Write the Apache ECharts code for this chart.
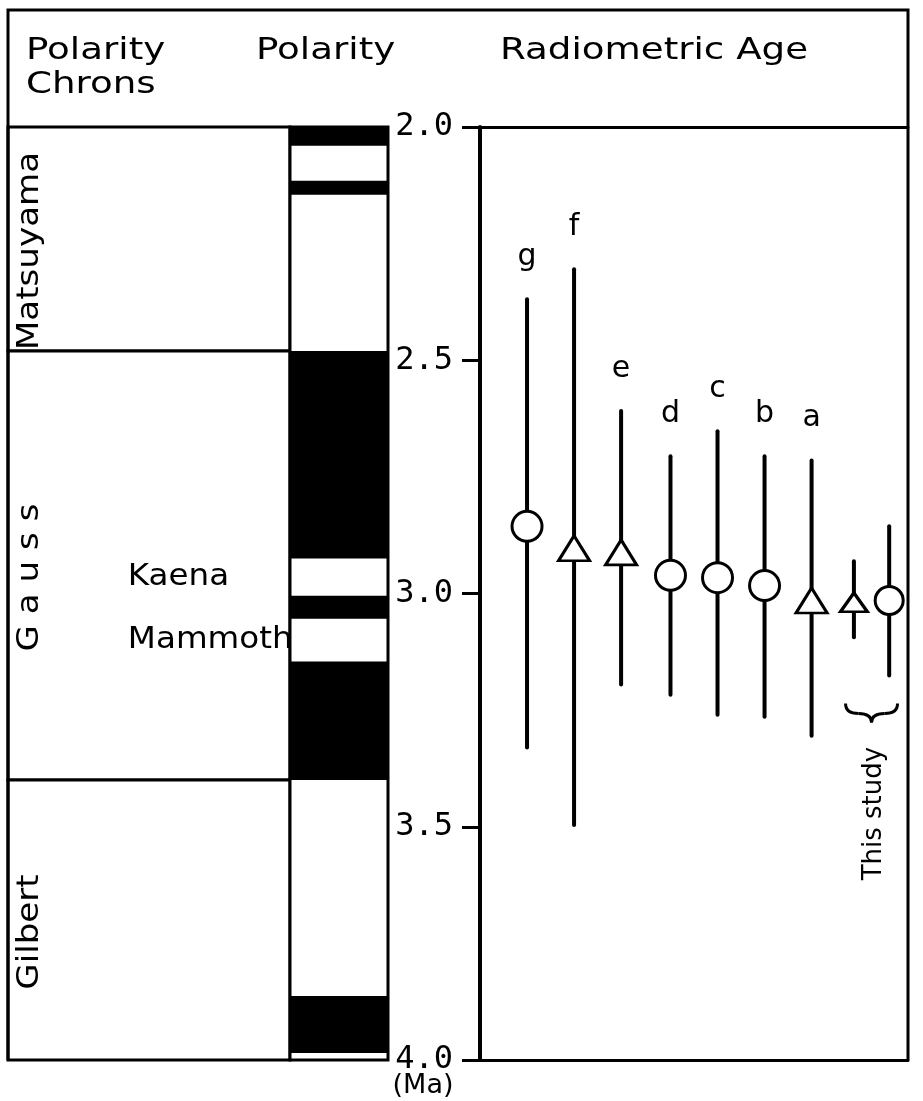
<!DOCTYPE html>
<html lang="en">
<head>
<meta charset="UTF-8">
<title>Polarity chrons and radiometric ages</title>
<script src="https://cdn.jsdelivr.net/npm/echarts@6/dist/echarts.min.js"></script>
<style>html,body{margin:0;background:#fff;}</style>
</head>
<body>
<div id="chart" style="width:923px;height:1101px;"></div>
<script>
// polarity chrons (Ma)
const chronNames = ['Matsuyama', 'G a u s s', 'Gilbert'];
const chronStart = [2.0, 2.48, 3.40];
const chronEnd = [2.48, 3.40, 4.0];

// normal polarity intervals (black)
const normalStart = [2.0, 2.115, 2.48, 3.005, 3.146, 3.863];
const normalEnd = [2.04, 2.145, 2.925, 3.054, 3.40, 3.985];

// subchrons
const subNames = ['Kaena', 'Mammoth'];
const subStart = [2.925, 3.054];
const subEnd = [3.005, 3.146];

// radiometric ages
const sampleNames = ['g', 'f', 'e', 'd', 'c', 'b', 'a', '', ''];
const slot = [1, 2, 3, 4.05, 5.05, 6.05, 7.05, 7.95, 8.7];
const ageMean = [2.856, 2.903, 2.912, 2.961, 2.966, 2.983, 3.015, 3.019, 3.015];
const ageLow = [2.369, 2.305, 2.609, 2.706, 2.652, 2.706, 2.715, 2.931, 2.856];
const ageHigh = [3.330, 3.496, 3.195, 3.217, 3.260, 3.264, 3.305, 3.094, 3.176];
const method = ['circle', 'triangle', 'triangle', 'circle', 'circle', 'circle', 'triangle', 'triangle', 'circle'];
const source = ['lit', 'lit', 'lit', 'lit', 'lit', 'lit', 'lit', 'study', 'study'];
const ageTicks = [2.0, 2.5, 3.0, 3.5, 4.0];

const BLACK = '#000';
const SANS = '"DejaVu Sans"';

const chart = echarts.init(document.getElementById('chart'));

const ageAxis = {
    type: 'value',
    inverse: true,
    min: ageTicks[0],
    max: ageTicks[ageTicks.length - 1],
    interval: ageTicks[1] - ageTicks[0]
};
const hidden = { show: false };

function txt(style) {
    // keep both old and new names for alignment
    style.textAlign = style.align;
    style.textVerticalAlign = style.verticalAlign;
    return style;
}

function markerSize(i) {
    const small = source[i] === 'study';
    if (method[i] === 'circle') return small ? 28 : 30;
    return small ? [27, 19] : [31, 25];
}

chart.setOption({
    animation: false,
    backgroundColor: '#fff',
    grid: [
        { left: 8, top: 127, width: 282, height: 933 },
        { left: 290, top: 127, width: 98, height: 933 },
        { left: 480, top: 127, width: 428, height: 933 }
    ],
    xAxis: [
        { type: 'value', gridIndex: 0, min: 0, max: 1, ...hidden },
        { type: 'value', gridIndex: 1, min: 0, max: 1, ...hidden },
        {
            type: 'value', gridIndex: 2, min: 0, max: 9.1, position: 'top',
            axisLine: { show: true, lineStyle: { color: BLACK, width: 3 } },
            axisTick: { show: false }, axisLabel: { show: false }, splitLine: { show: false }
        },
        {
            type: 'value', gridIndex: 2, min: 0, max: 9.1, position: 'bottom',
            axisLine: { show: true, lineStyle: { color: BLACK, width: 3 } },
            axisTick: { show: false }, axisLabel: { show: false }, splitLine: { show: false }
        }
    ],
    yAxis: [
        { ...ageAxis, gridIndex: 0, ...hidden },
        { ...ageAxis, gridIndex: 1, ...hidden },
        {
            ...ageAxis, gridIndex: 2,
            axisLine: { show: true, lineStyle: { color: BLACK, width: 4 } },
            axisTick: { show: true, length: 17, lineStyle: { color: BLACK, width: 3 } },
            axisLabel: {
                margin: 27, color: BLACK, fontFamily: 'DejaVu Sans Mono', fontSize: 32,
                formatter: v => v.toFixed(1)
            },
            splitLine: { show: false }
        },
        {
            ...ageAxis, gridIndex: 2,
            axisLine: { show: false },
            axisTick: { show: true, inside: true, length: 18, lineStyle: { color: BLACK, width: 3 } },
            axisLabel: { show: false },
            splitLine: { show: false }
        }
    ],
    series: [
        {
            // chron boxes
            type: 'custom', xAxisIndex: 0, yAxisIndex: 0, silent: true, z: 2,
            data: chronNames.map((n, i) => [i, chronStart[i], chronEnd[i]]),
            renderItem(params, api) {
                const i = api.value(0);
                const p0 = api.coord([0, api.value(1)]);
                const p1 = api.coord([1, api.value(2)]);
                return {
                    type: 'group',
                    children: [
                        {
                            type: 'rect',
                            shape: { x: p0[0], y: p0[1], width: p1[0] - p0[0], height: p1[1] - p0[1] },
                            style: { fill: '#fff', stroke: BLACK, lineWidth: 3 }
                        },
                        {
                            type: 'text', x: p0[0] + 22, y: (p0[1] + p1[1]) / 2 + 12,
                            rotation: Math.PI / 2, scaleX: 1.1,
                            style: txt({ text: chronNames[i], font: '31px ' + SANS, fill: BLACK, align: 'center', verticalAlign: 'middle' })
                        }
                    ]
                };
            }
        },
        {
            // polarity column frame
            type: 'custom', xAxisIndex: 1, yAxisIndex: 1, silent: true, z: 2,
            data: [[ageTicks[0], ageTicks[ageTicks.length - 1]]],
            renderItem(params, api) {
                const p0 = api.coord([0, api.value(0)]);
                const p1 = api.coord([1, api.value(1)]);
                return {
                    type: 'rect',
                    shape: { x: p0[0], y: p0[1], width: p1[0] - p0[0], height: p1[1] - p0[1] },
                    style: { fill: '#fff', stroke: BLACK, lineWidth: 3 }
                };
            }
        },
        {
            // normal polarity bands
            type: 'custom', xAxisIndex: 1, yAxisIndex: 1, silent: true, z: 3,
            data: normalStart.map((s, i) => [s, normalEnd[i]]),
            renderItem(params, api) {
                const p0 = api.coord([0, api.value(0)]);
                const p1 = api.coord([1, api.value(1)]);
                return {
                    type: 'rect',
                    shape: { x: p0[0], y: p0[1], width: p1[0] - p0[0], height: p1[1] - p0[1] },
                    style: { fill: BLACK }
                };
            }
        },
        {
            // subchron names
            type: 'custom', xAxisIndex: 0, yAxisIndex: 0, silent: true, z: 4,
            data: subNames.map((n, i) => [i, (subStart[i] + subEnd[i]) / 2]),
            renderItem(params, api) {
                const p = api.coord([0.425, api.value(1)]);
                return {
                    type: 'text', x: p[0], y: p[1], scaleX: 1.05,
                    style: txt({ text: subNames[api.value(0)], font: '31px ' + SANS, fill: BLACK, align: 'left', verticalAlign: 'middle' })
                };
            }
        },
        {
            // age ranges
            type: 'custom', xAxisIndex: 2, yAxisIndex: 2, silent: true, z: 4,
            data: slot.map((x, i) => [x, ageLow[i], ageHigh[i], i]),
            renderItem(params, api) {
                const top = api.coord([api.value(0), api.value(1)]);
                const bot = api.coord([api.value(0), api.value(2)]);
                return {
                    type: 'group',
                    children: [
                        {
                            type: 'line',
                            shape: { x1: top[0], y1: top[1], x2: bot[0], y2: bot[1] },
                            style: { stroke: BLACK, lineWidth: 4, lineCap: 'round' }
                        },
                        {
                            type: 'text', x: top[0], y: top[1] - 42,
                            style: txt({ text: sampleNames[api.value(3)], font: '30px ' + SANS, fill: BLACK, align: 'center', verticalAlign: 'middle' })
                        }
                    ]
                };
            }
        },
        {
            // mean ages
            type: 'scatter', xAxisIndex: 2, yAxisIndex: 2, silent: true, z: 5,
            data: slot.map((x, i) => ({
                value: [x, ageMean[i]],
                symbol: method[i],
                symbolSize: markerSize(i)
            })),
            itemStyle: { color: '#fff', borderColor: BLACK, borderWidth: 3, opacity: 1 }
        }
    ]
});

// frame, headings and notes
const study = source.map((s, i) => (s === 'study' ? i : -1)).filter(i => i >= 0);
const studyX = study.map(i => chart.convertToPixel({ gridIndex: 2 }, [slot[i], ageMean[i]])[0]);
const studyBottom = Math.max(...study.map(i => chart.convertToPixel({ gridIndex: 2 }, [slot[i], ageHigh[i]])[1]));
const braceX = (Math.min(...studyX) + Math.max(...studyX)) / 2;
const braceY = studyBottom + 28;

function head(text, x, y) {
    return {
        type: 'text', x: x, y: y, scaleX: 1.2, silent: true,
        style: txt({ text: text, font: '31px ' + SANS, fill: BLACK, align: 'left', verticalAlign: 'middle' })
    };
}

const lineStyle = { stroke: BLACK, lineWidth: 3, fill: null };

chart.setOption({
    graphic: [
        {
            type: 'polyline', silent: true, z: 10,
            shape: { points: [[8, 1060], [8, 10], [908, 10], [908, 1060]] },
            style: lineStyle
        },
        head('Polarity', 26, 51),
        head('Chrons', 26, 85),
        head('Polarity', 256, 51),
        head('Radiometric Age', 500, 51),
        {
            type: 'text', x: 423, y: 1086, silent: true,
            style: txt({ text: '(Ma)', font: '27px ' + SANS, fill: BLACK, align: 'center', verticalAlign: 'middle' })
        },
        {
            type: 'group', x: braceX, y: braceY, silent: true,
            children: [
                { type: 'bezierCurve', shape: { x1: -26, y1: 0, cpx1: -26, cpy1: 10, x2: -13, y2: 10 }, style: lineStyle },
                { type: 'bezierCurve', shape: { x1: -13, y1: 10, cpx1: 0, cpy1: 10, x2: 0, y2: 19 }, style: lineStyle },
                { type: 'bezierCurve', shape: { x1: 0, y1: 19, cpx1: 0, cpy1: 10, x2: 13, y2: 10 }, style: lineStyle },
                { type: 'bezierCurve', shape: { x1: 13, y1: 10, cpx1: 26, cpy1: 10, x2: 26, y2: 0 }, style: lineStyle }
            ]
        },
        {
            type: 'text', x: braceX + 3, y: braceY + 110, rotation: Math.PI / 2, silent: true,
            style: txt({ text: 'This study', font: '26px ' + SANS, fill: BLACK, align: 'center', verticalAlign: 'middle' })
        }
    ]
});
</script>
</body>
</html>
